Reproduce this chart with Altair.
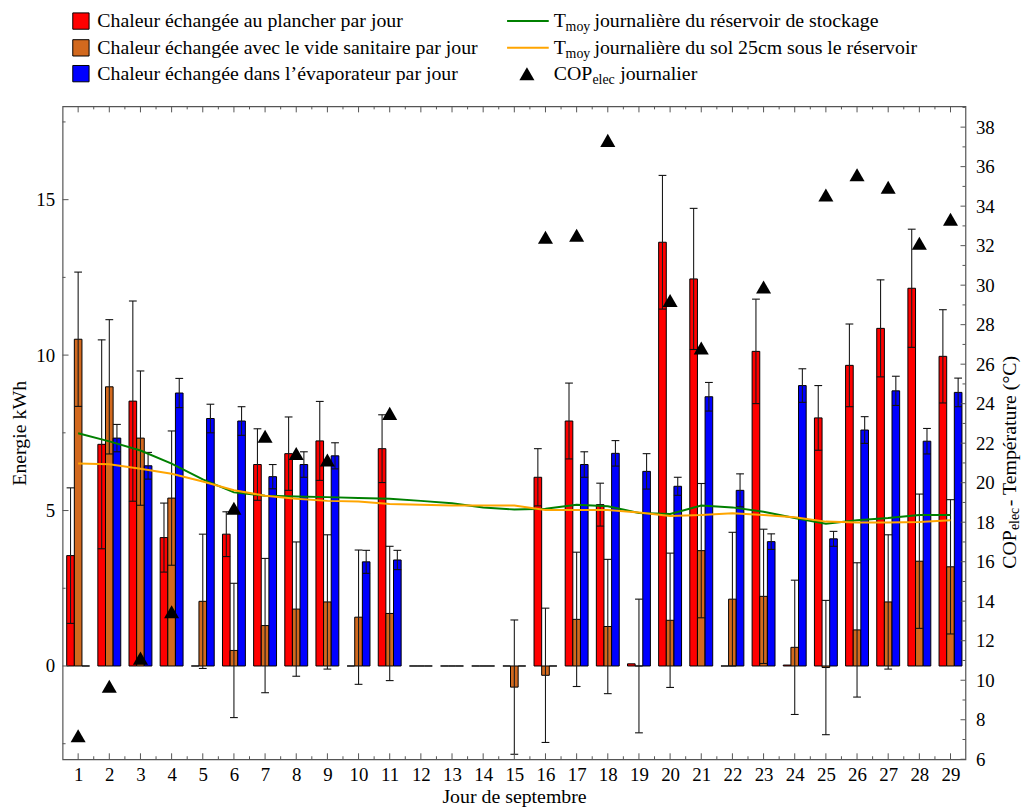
import altair as alt
import pandas as pd

FONT = "Liberation Serif"
AX = "#555555"

# ---------------- data ----------------
days = list(range(1, 30))

q_plancher = [3.55, 7.13, 8.52, 4.13, 0.0, 4.24, 6.48, 6.83, 7.24, 0.0, 6.99, 0.0, 0.0, 0.0, 0.0,
              6.07, 7.88, 5.19, 0.07, 13.63, 12.45, 0.0, 10.12, 0.03, 7.98, 9.67, 10.86, 12.15, 9.96]
err_plancher = [2.18, 3.36, 3.22, 1.11, None, 0.72, 1.15, 1.18, 1.27, None, 1.09, None, None, None, None,
                0.92, 1.22, 0.69, None, 2.15, 2.27, None, 1.68, None, 1.04, 1.33, 1.56, 1.90, 1.50]

q_vide = [10.51, 8.98, 7.33, 5.40, 2.08, 0.50, 1.30, 1.83, 2.06, 1.57, 1.69, 0.0, 0.0, 0.0, -0.68,
          -0.30, 1.50, 1.27, 0.0, 1.47, 3.71, 2.15, 2.24, 0.60, -0.05, 1.16, 2.06, 3.37, 3.19]
err_vide = [2.16, 2.16, 2.16, 2.16, 2.16, 2.16, 2.16, 2.16, 2.16, 2.16, 2.16, None, None, None, 2.16,
            2.16, 2.16, 2.16, 2.15, 2.16, 2.16, 2.15, 2.16, 2.16, 2.16, 2.16, 2.16, 2.16, 2.16]

q_evap = [0.0, 7.33, 6.44, 8.78, 7.96, 7.88, 6.09, 6.48, 6.76, 3.35, 3.41, 0.0, 0.0, 0.0, 0.0,
          0.0, 6.48, 6.84, 6.26, 5.78, 8.66, 5.65, 4.00, 9.02, 4.09, 7.59, 8.85, 7.23, 8.80]
err_evap = [None, 0.44, 0.43, 0.47, 0.46, 0.46, 0.39, 0.41, 0.42, 0.37, 0.31, None, None, None, None,
            None, 0.41, 0.41, 0.57, 0.29, 0.46, 0.53, 0.25, 0.54, 0.24, 0.43, 0.47, 0.41, 0.46]

t_reservoir = [22.50, 22.09, 21.63, 20.97, 20.17, 19.51, 19.34, 19.30, 19.27, 19.23, 19.19, 19.08, 18.96,
               18.75, 18.64, 18.68, 18.88, 18.81, 18.47, 18.42, 18.84, 18.75, 18.53, 18.21, 17.92, 18.10,
               18.21, 18.36, 18.36]
t_sol = [20.97, 20.93, 20.71, 20.45, 20.06, 19.62, 19.34, 19.19, 19.08, 19.05, 18.92, 18.88, 18.84,
         18.84, 18.84, 18.62, 18.62, 18.62, 18.49, 18.32, 18.36, 18.45, 18.36, 18.25, 18.03, 17.98,
         17.98, 18.01, 18.10]

cop_days = [1, 2, 3, 4, 6, 7, 8, 9, 11, 16, 17, 18, 20, 21, 23, 25, 26, 27, 28, 29]
cop_values = [7.19, 9.70, 11.12, 13.47, 18.71, 22.35, 21.48, 21.15, 23.51, 32.43, 32.53, 37.33,
              29.22, 26.82, 29.91, 34.56, 35.59, 34.96, 32.12, 33.34]

series_names = ["plancher", "vide", "evap"]
series_colors = ["#ff0000", "#d2691e", "#0000ff"]

left_major = [0, 5, 10, 15]
left_minor = [-2.5, 2.5, 7.5, 12.5, 17.5]
x_minor = [d + 0.5 for d in days[:-1]]
right_major = list(range(6, 39, 2))
right_minor = list(range(7, 40, 2))

# ---------------- tables ----------------
rows = []
for name, vals, errs in [("plancher", q_plancher, err_plancher),
                         ("vide", q_vide, err_vide),
                         ("evap", q_evap, err_evap)]:
    for d, v, e in zip(days, vals, errs):
        rows.append({"jour": d, "serie": name, "valeur": v, "err": e})
bars_df = pd.DataFrame(rows)
temp_df = pd.DataFrame({"jour": days, "t_res": t_reservoir, "t_sol": t_sol})
cop_df = pd.DataFrame({"jour": cop_days, "cop": cop_values})
dummy = pd.DataFrame({"a": [0]})

W, H = 910, 658
xscale = alt.Scale(domain=[0.5, 29.48], nice=False, zero=False)
yl = alt.Scale(domain=[-3, 18], nice=False, zero=False)
yr = alt.Scale(domain=[6, 39.05], nice=False, zero=False)

xaxis = alt.Axis(values=days, ticks=False, domain=False, grid=False, labelFont=FONT, labelFontSize=19,
                 labelColor="black", labelPadding=6, labelFlush=False, labelOverlap=False,
                 title="Jour de septembre", titleFont=FONT, titleFontSize=20, titleFontWeight="normal",
                 titleColor="black", titleY=44, titleBaseline="alphabetic")
yaxis_left = alt.Axis(values=left_major, ticks=False, domain=False, grid=False, labelFont=FONT,
                      labelFontSize=19, labelColor="black", labelPadding=8, labelOverlap=False,
                      title="Energie kWh", titleFont=FONT, titleFontSize=20, titleFontWeight="normal",
                      titleColor="black", titleAngle=270, titleX=-37, titleBaseline="alphabetic",
                      titleAlign="center")
yaxis_right = alt.Axis(orient="right", values=right_major, ticks=False, domain=False, grid=False,
                       labelFont=FONT, labelFontSize=19, labelColor="black", labelPadding=10,
                       labelOverlap=False, title=None)

X = lambda f: alt.X(f, scale=xscale, axis=xaxis)
YL = lambda f: alt.Y(f, scale=yl, axis=yaxis_left)
YR = lambda f: alt.Y(f, scale=yr, axis=yaxis_right)

base = alt.Chart(bars_df).transform_calculate(
    pos="datum.jour + (datum.serie == 'plancher' ? -0.245 : (datum.serie == 'vide' ? 0 : 0.245))"
).transform_calculate(
    xa="datum.pos - 0.1225", xb="datum.pos + 0.1225",
    lo="datum.valeur - datum.err", hi="datum.valeur + datum.err",
    ca="datum.pos - 0.125", cb="datum.pos + 0.125", zero="0"
)

bars = base.mark_bar(stroke="black", strokeWidth=1, opacity=1).encode(
    x=X("xa:Q"), x2="xb:Q",
    y=alt.Y("valeur:Q", scale=yl, axis=yaxis_left, stack=None),
    y2="zero:Q",
    color=alt.Color("serie:N", scale=alt.Scale(domain=series_names, range=series_colors), legend=None),
)
eb = base.transform_filter("isValid(datum.err)")
err_line = eb.mark_rule(color="#1a1a1a", strokeWidth=1.1).encode(x=X("pos:Q"), y=YL("lo:Q"), y2="hi:Q")
cap_lo = eb.mark_rule(color="#111111", strokeWidth=1.1).encode(x=X("ca:Q"), x2="cb:Q", y=YL("lo:Q"))
cap_hi = eb.mark_rule(color="#111111", strokeWidth=1.1).encode(x=X("ca:Q"), x2="cb:Q", y=YL("hi:Q"))

# inner ticks (matplotlib style)
def tick_df(vals):
    return pd.DataFrame({"v": vals})

lt_major = alt.Chart(tick_df(left_major)).mark_rule(color=AX, strokeWidth=1).encode(
    y=YL("v:Q"), x=alt.value(0), x2=alt.value(6))
lt_minor = alt.Chart(tick_df(left_minor)).mark_rule(color=AX, strokeWidth=1).encode(
    y=YL("v:Q"), x=alt.value(0), x2=alt.value(3))
bt_major = alt.Chart(tick_df(days)).mark_rule(color=AX, strokeWidth=1).encode(
    x=X("v:Q"), y=alt.value(H), y2=alt.value(H - 6))
bt_minor = alt.Chart(tick_df(x_minor)).mark_rule(color=AX, strokeWidth=1).encode(
    x=X("v:Q"), y=alt.value(H), y2=alt.value(H - 3))
tt_major = alt.Chart(tick_df(days)).mark_rule(color=AX, strokeWidth=1).encode(
    x=X("v:Q"), y=alt.value(0), y2=alt.value(6))
tt_minor = alt.Chart(tick_df(x_minor)).mark_rule(color=AX, strokeWidth=1).encode(
    x=X("v:Q"), y=alt.value(0), y2=alt.value(3))

# legend
def txt(s, x, y, size=20, **kw):
    return alt.Chart(dummy).mark_text(text=s, font=FONT, fontSize=size, align="left",
                                      baseline="middle", color="black", **kw).encode(
        x=alt.value(x), y=alt.value(y))

rows_y = [-86, -59, -33]
legend_layers = []
for yy, col in zip(rows_y, series_colors):
    legend_layers.append(alt.Chart(dummy).mark_square(size=270, fill=col, stroke="black", strokeWidth=1,
                                                      opacity=1).encode(x=alt.value(18.5), y=alt.value(yy)))
legend_layers += [
    txt("Chaleur échangée au plancher par jour", 35, rows_y[0]),
    txt("Chaleur échangée avec le vide sanitaire par jour", 35, rows_y[1]),
    txt("Chaleur échangée dans l\u2019évaporateur par jour", 35, rows_y[2]),
    alt.Chart(dummy).mark_rule(color="#008000", strokeWidth=2).encode(
        x=alt.value(448), x2=alt.value(490), y=alt.value(rows_y[0])),
    alt.Chart(dummy).mark_rule(color="#ffa500", strokeWidth=2).encode(
        x=alt.value(448), x2=alt.value(490), y=alt.value(rows_y[1])),
    alt.Chart(dummy).mark_point(shape="triangle-up", filled=True, color="black", size=230, opacity=1).encode(
        x=alt.value(468), y=alt.value(rows_y[2])),
    txt("T", 495, rows_y[0]), txt("moy", 507, rows_y[0] + 6, size=14),
    txt("journalière du réservoir de stockage", 536, rows_y[0]),
    txt("T", 495, rows_y[1]), txt("moy", 507, rows_y[1] + 6, size=14),
    txt("journalière du sol 25cm sous le réservoir", 536, rows_y[1]),
    txt("COP", 495, rows_y[2]), txt("elec", 534, rows_y[2] + 6, size=14),
    txt("journalier", 562, rows_y[2]),
]

# right-axis title with subscript
def rtxt(s, x, y, size=20):
    return alt.Chart(dummy).mark_text(text=s, font=FONT, fontSize=size, align="left", angle=270,
                                      baseline="alphabetic", color="black").encode(
        x=alt.value(x), y=alt.value(y))

right_title = [
    rtxt("COP", 961, 466),
    rtxt("elec", 964, 427, size=14),
    rtxt(" - Température (°C)", 961, 403, size=20),
]

left = alt.layer(bars, err_line, cap_lo, cap_hi, lt_major, lt_minor, bt_major, bt_minor,
                 tt_major, tt_minor, *legend_layers, *right_title)

# right layer
line_res = alt.Chart(temp_df).mark_line(color="#008000", strokeWidth=2).encode(x=X("jour:Q"), y=YR("t_res:Q"))
line_sol = alt.Chart(temp_df).mark_line(color="#ffa500", strokeWidth=2).encode(x=X("jour:Q"), y=YR("t_sol:Q"))
cop_pts = alt.Chart(cop_df).mark_point(shape="triangle-up", filled=True, color="black", size=230,
                                       opacity=1).encode(x=X("jour:Q"), y=YR("cop:Q"))
rt_major = alt.Chart(tick_df(right_major)).mark_rule(color=AX, strokeWidth=1).encode(
    y=YR("v:Q"), x=alt.value(W), x2=alt.value(W - 5))
rt_minor = alt.Chart(tick_df(right_minor)).mark_rule(color=AX, strokeWidth=1).encode(
    y=YR("v:Q"), x=alt.value(W), x2=alt.value(W - 3))

right = alt.layer(rt_major, rt_minor, line_res, line_sol, cop_pts)

chart = alt.layer(left, right).resolve_scale(y="independent").properties(
    width=W, height=H,
    autosize=alt.AutoSizeParams(type="none"),
    padding={"left": 55, "top": 96, "right": 59, "bottom": 50},
).configure_view(stroke=AX, strokeWidth=1.2)

chart.save("out.html", embed_options={"renderer": "svg", "actions": False})
